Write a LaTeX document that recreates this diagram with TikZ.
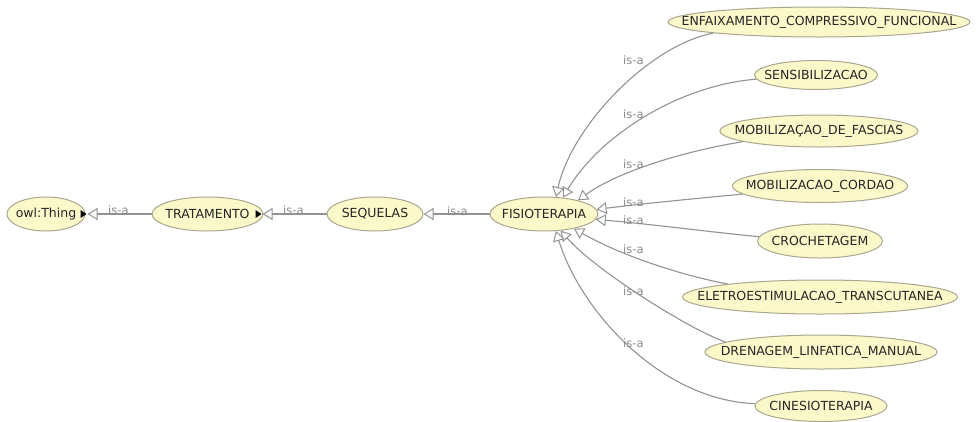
\documentclass[tikz,border=0pt]{standalone}
\usepackage{fontspec}
\setmainfont{DejaVu Sans}
\usetikzlibrary{shapes.geometric,arrows.meta}
\definecolor{clsfill}{HTML}{FBF8CA}
\definecolor{clsdraw}{HTML}{A9A78E}
\definecolor{edgegray}{HTML}{939393}
\definecolor{lblgray}{HTML}{8A8A8A}
% zero-width box so the ellipse size is set only by minimum width/height
\newcommand\clstext[1]{\makebox[0pt][c]{#1}}
\begin{document}
\begin{tikzpicture}[x=1pt,y=-1pt,
  cls/.style={ellipse, draw=clsdraw, fill=clsfill, line width=1pt, inner sep=0pt,
    font=\fontsize{12.5}{12.5}\selectfont, text=black!85},
  isa/.style={-{Triangle[length=10pt,width=12pt,fill=white,line width=1pt]},
    draw=edgegray, line width=1.1pt},
  lbl/.style={font=\fontsize{11.5}{11.5}\selectfont, text=lblgray, inner sep=0pt, anchor=west},
  expander/.style={fill=black}
]
\useasboundingbox[fill=white] (0,0) rectangle (977,421);

% main chain
\node[cls, minimum width=78pt, minimum height=34pt] (thing) at (46,214) {\clstext{owl:Thing}};
\node[cls, minimum width=111pt, minimum height=34pt] (trat) at (207.5,214) {\clstext{TRATAMENTO}};
\node[cls, minimum width=96pt, minimum height=34pt] (seq) at (375,214) {\clstext{SEQUELAS}};
\node[cls, minimum width=108pt, minimum height=34pt] (fis) at (544,214) {\clstext{FISIOTERAPIA}};

% subclasses of FISIOTERAPIA
\node[cls, minimum width=302pt, minimum height=30pt] (enf) at (819,22) {\clstext{ENFAIXAMENTO\_COMPRESSIVO\_FUNCIONAL}};
\node[cls, minimum width=123pt, minimum height=29pt] (sens) at (816,75) {\clstext{SENSIBILIZACAO}};
\node[cls, minimum width=198pt, minimum height=32pt] (mob) at (819,131) {\clstext{MOBILIZAÇAO\_DE\_FASCIAS}};
\node[cls, minimum width=175pt, minimum height=33pt] (cord) at (820,186) {\clstext{MOBILIZACAO\_CORDAO}};
\node[cls, minimum width=125pt, minimum height=34pt] (croch) at (820,241) {\clstext{CROCHETAGEM}};
\node[cls, minimum width=275pt, minimum height=34pt] (eletro) at (820,297) {\clstext{ELETROESTIMULACAO\_TRANSCUTANEA}};
\node[cls, minimum width=232pt, minimum height=34pt] (dren) at (821,352) {\clstext{DRENAGEM\_LINFATICA\_MANUAL}};
\node[cls, minimum width=132pt, minimum height=31pt] (cine) at (821,406) {\clstext{CINESIOTERAPIA}};

% expand markers
\fill[expander] ([xshift=1pt]thing.east) -- ++(-6,-4) -- ++(0,8) -- cycle;
\fill[expander] ([xshift=-2pt]trat.east) -- ++(-6,-4) -- ++(0,8) -- cycle;

% is-a edges of the chain
\draw[isa] (trat.west) -- ([xshift=2pt]thing.east);
\draw[isa] (seq.west) -- ([xshift=-1pt]trat.east);
\draw[isa] (fis.west) -- (seq.east);
\node[lbl] (l1) at (108,210) {is-a};
\node[lbl] (l2) at (283,210) {is-a};
\node[lbl] (l3) at (447,211) {is-a};

% is-a edges to FISIOTERAPIA
\draw[isa] (enf.186) .. controls (650,45) and (572,125) .. (fis.55);
\draw[isa] (sens.184) .. controls (680,85) and (600,135) .. (fis.41);
\draw[isa] (mob.188) .. controls (690,150) and (620,170) .. (fis.22);
\draw[isa] (cord.186) .. controls (690,199) and (640,204) .. (fis.5);
\draw[isa] (croch.176) .. controls (710,232) and (650,224) .. (fis.354);
\draw[isa] (eletro.172) .. controls (680,275) and (620,255) .. (fis.334);
\draw[isa] (dren.174) .. controls (690,330) and (595,270) .. (fis.315);
\draw[isa] (cine.178) .. controls (660,400) and (580,310) .. (fis.305);

\node[lbl] (r1) at (623,60) {is-a};
\node[lbl] (r2) at (623,114) {is-a};
\node[lbl] (r3) at (623,164) {is-a};
\node[lbl] (r4) at (623,202) {is-a};
\node[lbl] (r5) at (623,220) {is-a};
\node[lbl] (r6) at (623,249) {is-a};
\node[lbl] (r7) at (623,291) {is-a};
\node[lbl] (r8) at (623,343) {is-a};
\end{tikzpicture}
\end{document}
